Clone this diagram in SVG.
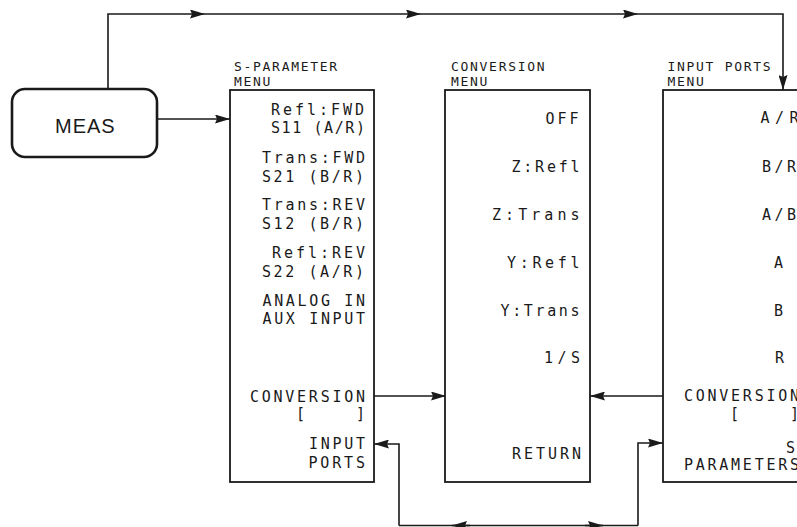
<svg xmlns="http://www.w3.org/2000/svg" width="797" height="527" viewBox="0 0 797 527">
<style>
.box{fill:#fff;stroke:#1a1a1a;stroke-width:1.8}
.meas{fill:#fff;stroke:#1a1a1a;stroke-width:2.6}
.ln{fill:none;stroke:#1a1a1a;stroke-width:1.6}
.t{font-family:"DejaVu Sans Mono",monospace;font-size:15px;fill:#1a1a1a}
.h{font-family:"DejaVu Sans Mono",monospace;font-size:13px;letter-spacing:1.7px;fill:#1a1a1a}
.m{font-family:"Liberation Sans",Arial,sans-serif;font-size:20px;letter-spacing:1px;fill:#1a1a1a}
</style>
<defs>
<marker id="ah" markerUnits="userSpaceOnUse" markerWidth="15" markerHeight="9" refX="15" refY="4.5" orient="auto">
<path d="M0,0 L15,4.5 L0,9 L2,4.5 z" fill="#1a1a1a"/>
</marker>
</defs>
<rect width="797" height="527" fill="#fff"/>
<g id="connectors">
<path class="ln" d="M108,89 V14 H205" marker-end="url(#ah)"/>
<path class="ln" d="M205,14 H421" marker-end="url(#ah)"/>
<path class="ln" d="M421,14 H638" marker-end="url(#ah)"/>
<path class="ln" d="M638,14 H783 V90" marker-end="url(#ah)"/>
<path class="ln" d="M157,119 H230" marker-end="url(#ah)"/>
<path class="ln" d="M374,396 H446" marker-end="url(#ah)"/>
<path class="ln" d="M663,396 H590" marker-end="url(#ah)"/>
<path class="ln" d="M399,525.5 V444 H374" marker-end="url(#ah)"/>
<path class="ln" d="M638,525.5 V443 H663" marker-end="url(#ah)"/>
<path class="ln" d="M399,525.5 H638"/>
<path class="ln" d="M470,525.5 H452" marker-end="url(#ah)"/>
<path class="ln" d="M585,525.5 H603" marker-end="url(#ah)"/>
</g>
<g id="meas">
<rect class="meas" x="12" y="89" width="145" height="68" rx="13"/>
<text class="m" x="55" y="133">MEAS</text>
</g>
<g id="s-parameter-menu">
<text class="h" x="234" y="70.5">S-PARAMETER</text>
<text class="h" x="234" y="86">MENU</text>
<rect class="box" x="230" y="90" width="144" height="392"/>
<text class="t" x="271" y="115" textLength="93" lengthAdjust="spacing">Refl:FWD</text>
<text class="t" x="271" y="133" textLength="94" lengthAdjust="spacing">S11 (A/R)</text>
<text class="t" x="262" y="163" textLength="103" lengthAdjust="spacing">Trans:FWD</text>
<text class="t" x="262" y="182" textLength="102" lengthAdjust="spacing">S21 (B/R)</text>
<text class="t" x="262" y="210" textLength="103" lengthAdjust="spacing">Trans:REV</text>
<text class="t" x="262" y="229" textLength="102" lengthAdjust="spacing">S12 (B/R)</text>
<text class="t" x="272" y="258" textLength="93" lengthAdjust="spacing">Refl:REV</text>
<text class="t" x="262" y="277" textLength="102" lengthAdjust="spacing">S22 (A/R)</text>
<text class="t" x="262.5" y="306" textLength="102.5" lengthAdjust="spacing">ANALOG IN</text>
<text class="t" x="262.5" y="323.5" textLength="102.5" lengthAdjust="spacing">AUX INPUT</text>
<text class="t" x="250" y="401.5" textLength="115" lengthAdjust="spacing">CONVERSION</text>
<text class="t" x="296" y="419" textLength="69" lengthAdjust="spacing" xml:space="preserve">[    ]</text>
<text class="t" x="309" y="449" textLength="56" lengthAdjust="spacing">INPUT</text>
<text class="t" x="308.5" y="468" textLength="56.5" lengthAdjust="spacing">PORTS</text>
</g>
<g id="conversion-menu">
<text class="h" x="451" y="70.5">CONVERSION</text>
<text class="h" x="451" y="86">MENU</text>
<rect class="box" x="445" y="90" width="145" height="392"/>
<text class="t" x="545.5" y="124" textLength="33" lengthAdjust="spacing">OFF</text>
<text class="t" x="511.5" y="172" textLength="68" lengthAdjust="spacing">Z:Refl</text>
<text class="t" x="492" y="220" textLength="87.5" lengthAdjust="spacing">Z:Trans</text>
<text class="t" x="507" y="268" textLength="72.5" lengthAdjust="spacing">Y:Refl</text>
<text class="t" x="500.5" y="315.5" textLength="79" lengthAdjust="spacing">Y:Trans</text>
<text class="t" x="544" y="363" textLength="36" lengthAdjust="spacing">1/S</text>
<text class="t" x="512" y="459" textLength="69" lengthAdjust="spacing">RETURN</text>
</g>
<g id="input-ports-menu">
<text class="h" x="667.5" y="70.5">INPUT PORTS</text>
<text class="h" x="667.5" y="86">MENU</text>
<rect class="box" x="663" y="90" width="150" height="392"/>
<text class="t" x="760.5" y="123" textLength="38" lengthAdjust="spacing">A/R</text>
<text class="t" x="762" y="172" textLength="34" lengthAdjust="spacing">B/R</text>
<text class="t" x="762" y="220" textLength="34" lengthAdjust="spacing">A/B</text>
<text class="t" x="774" y="268">A</text>
<text class="t" x="774" y="315.5">B</text>
<text class="t" x="775" y="363">R</text>
<text class="t" x="684" y="401" textLength="115" lengthAdjust="spacing">CONVERSION</text>
<text class="t" x="730" y="419" textLength="69" lengthAdjust="spacing" xml:space="preserve">[    ]</text>
<text class="t" x="786" y="452.5">S</text>
<text class="t" x="684" y="469.5" textLength="115" lengthAdjust="spacing">PARAMETERS</text>
</g>
</svg>
